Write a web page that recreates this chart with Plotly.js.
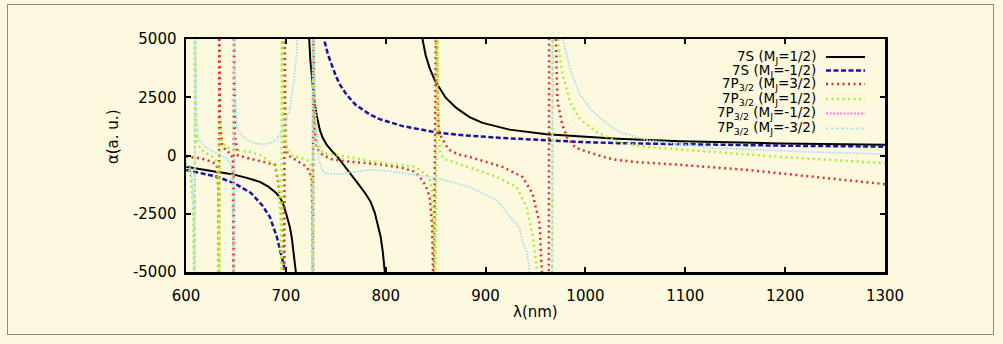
<!DOCTYPE html>
<html>
<head>
<meta charset="utf-8">
<script src="https://cdn.plot.ly/plotly-3.0.1.min.js"></script>
<style>
  html, body { margin: 0; padding: 0; background: #fdf9de; }
  #wrap { position: relative; width: 1003px; height: 344px; }
  #frame { position: absolute; left: 7px; top: 4px; width: 987px; height: 331px;
           border: 1.5px solid #8c8a7c; box-sizing: border-box; pointer-events: none; }
  #chart { position: absolute; left: 0; top: 0; width: 1003px; height: 344px; }
</style>
</head>
<body>
<div id="wrap"><div id="chart"></div><div id="frame"></div></div>
<script>
// ---- data (wavelength in nm, polarizability in a.u.) ----
var lam7S_p = [600,610,620,630,640,648,660,674,682,690,694,697,700,702,704,706,708,710,711.5,716,
  721.5,723,724.5,726,728,731,734,737,741,746,751,756,762,768,774,780,785,789,792,795,797,799,800.5,801.5,815,
  835.5,837,840,844,849,854,860,871,884,897,924,961,995,1032,1095,1195,1300];
var alpha7S_p = [-480,-560,-630,-700,-760,-820,-950,-1130,-1320,-1600,-1800,-2040,-2450,-2750,-3070,-3550,-4300,-5000,-6500,null,
  6500,4960,4100,3450,2500,1700,1100,750,450,200,-20,-300,-620,-950,-1300,-1650,-2000,-2450,-2950,-3500,-4100,-4800,-5600,-6500,null,
  6500,4960,4300,3750,3240,2900,2480,2030,1650,1400,1110,910,810,720,610,520,460];

var lam7S_m = [600,615,631,648,665,676,684,691,696,699,700.5,718,
  737.5,739,742,746,750,754,761,770,784,794,817,851,880,917,960,995,1032,1095,1200,1300];
var alpha7S_m = [-620,-760,-910,-1180,-1610,-2120,-2640,-3500,-4350,-4900,-6500,null,
  6500,4870,4350,3850,3420,3050,2600,2170,1760,1560,1260,990,860,750,650,580,530,480,420,380];

var lamP_32 = [600,611,620,627,631,632.5,633,633.3,634,636,640,645,647,647.7,648,649,652,660,670,680,689,692,695,697,698.5,698.8,699.5,702,707,714,721,724,726,726.8,727.2,727.4,728.5,731,736,745,760,784,800,817,828,834,840,844,846.5,848,850.5,852,853,856,860,864,872,884,900,917,937,947,954,957,958,963.3,963.7,969.5,970.5,972,977,982,990,1000,1010,1020,1030,1050,1095,1162,1228,1300];
var alphaP_32 = [-50,-100,-180,-300,-450,-1500,-6500,6500,1500,500,200,80,-200,-6500,6500,800,0,-100,-200,-300,-400,-1050,-2040,-3500,-6500,6500,500,20,-110,-280,-490,-750,-1050,-3000,-6500,6500,1200,300,50,-150,-250,-340,-420,-540,-680,-900,-1300,-1780,-3000,-6500,6500,2000,1100,750,450,240,50,-60,-260,-490,-920,-1630,-2900,-5000,-6500,-6500,6500,6500,4500,2300,1300,750,330,180,50,-80,-180,-280,-400,-620,-910,-1230];

var lamP_12 = [600,604,607,608.5,609,609.5,611,615,622,628,631,632.5,633.3,633.6,635,640,648,665,675,685,690,693,695,695.7,696,697,699,702,706,715,721,725,726.5,727,727.3,728.5,731,737,747,767,798,830,843,846,848,849.3,851.8,852.5,853.3,854.5,857,861,870,884,897,911,931,941,947,951.5,953,966.7,967.1,971.5,972.5,977,984.5,994.5,1011.5,1021.6,1031,1045,1061.6,1128,1195,1300];
var alphaP_12 = [-400,-700,-2000,-6500,6500,1500,600,250,50,-100,-300,-1500,-6500,1600,700,350,250,150,0,-300,-500,-1200,-3000,-6500,6500,2000,700,200,0,-100,-180,-400,-2000,-6500,6500,2000,600,100,50,-100,-330,-490,-900,-1400,-3000,-6500,6500,3000,800,150,-80,-190,-320,-490,-700,-920,-1350,-2200,-3400,-4900,-6500,-6500,6500,6500,4800,3500,2300,1560,1000,800,620,480,370,150,-60,-330];

var lamP_m12 = [600,605,607.5,608.8,609.2,610,612,620,628,634,640,645,647,647.8,648.2,649.5,651,656,661,670,678,685,691,697,704,708,711,712.5,726.7,727,727.4,729,731,733,736,740,754,770,784,800,817,851,884,911,927,934,937,941,944,945,966.8,967.2,976.5,977.5,984.5,994.5,1007.6,1025,1035,1061.6,1128,1228,1300];
var alphaP_m12 = [-300,-600,-2000,-6500,6500,2500,750,350,150,0,-100,-400,-1500,-6500,6500,2500,1220,850,660,520,480,550,700,1100,2000,3200,4500,6500,6500,-6500,6500,3000,600,-200,-600,-780,-800,-700,-620,-650,-750,-970,-1350,-1910,-2770,-3100,-3700,-4100,-4900,-6500,-6500,6500,6500,5000,3750,2600,1870,1250,1000,660,320,150,60];

var lamP_m32 = [600,605,607.5,608.8,609.2,610,612,620,628,634,640,645,647,647.8,648.2,649.5,651,656,661,670,678,685,691,697,704,708,711,712.5,726.7,727,727.4,729,731,733,736,740,754,770,784,800,817,851,884,911,927,934,937,941,944,945,966.8,967.2,976.5,977.5,984.5,994.5,1007.6,1025,1035,1061.6,1128,1228,1300];
var alphaP_m32 = [-300,-600,-2000,-6500,6500,2500,750,350,150,0,-100,-400,-1500,-6500,6500,2500,1220,850,660,520,480,550,700,1100,2000,3200,4500,6500,6500,-6500,6500,3000,600,-200,-600,-780,-800,-700,-620,-650,-750,-970,-1350,-1910,-2770,-3100,-3700,-4100,-4900,-6500,-6500,6500,6500,5000,3750,2600,1870,1250,1000,660,320,150,60];

var seriesNames = ['7S (M<sub>J</sub>=1/2)','7S (M<sub>J</sub>=-1/2)','7P<sub>3/2</sub> (M<sub>J</sub>=3/2)','7P<sub>3/2</sub> (M<sub>J</sub>=1/2)','7P<sub>3/2</sub> (M<sub>J</sub>=-1/2)','7P<sub>3/2</sub> (M<sub>J</sub>=-3/2)'];
var xTickVals = [600,700,800,900,1000,1100,1200,1300];
var xTickText = ['600','700','800','900','1000','1100','1200','1300'];
var yTickVals = [-5000,-2500,0,2500,5000];
var yTickText = ['-5000','-2500','0','2500','5000'];

// ---- styles: plot line style and legend sample style ----
var styles = [
  {color:'#000000', width:2,   dash:'solid'},
  {color:'#1414a8', width:2.5, dash:'5px,2.5px'},
  {color:'#e0302a', width:2.5, dash:'2px,3.5px'},
  {color:'#a8f030', width:2.5, dash:'2px,3.5px'},
  {color:'#e8a0e0', width:0.6, dash:'1.5px,1.5px'},
  {color:'#a2e4ee', width:1.8, dash:'1.5px,1.5px'}
];
var legendStyles = [
  styles[0], styles[1], styles[2], styles[3],
  {color:'#ff78f0', width:2, dash:'2px,1.5px'},
  {color:'#a6e8f0', width:2, dash:'2.5px,2.5px'}
];
var xs = [lam7S_p, lam7S_m, lamP_32, lamP_12, lamP_m12, lamP_m32];
var ys = [alpha7S_p, alpha7S_m, alphaP_32, alphaP_12, alphaP_m12, alphaP_m32];

var traces = xs.map(function(x, i){
  return {x:x, y:ys[i], type:'scatter', mode:'lines', name:seriesNames[i],
          connectgaps:false, showlegend:false, hoverinfo:'skip',
          line:{color:styles[i].color, width:styles[i].width, dash:styles[i].dash}};
});

// manual legend (text on the left, sample on the right)
var rowY = [0.9227, 0.8648, 0.8069, 0.7425, 0.6803, 0.6159];
var annotations = [];
var shapes = [];
seriesNames.forEach(function(n, i){
  annotations.push({xref:'paper', yref:'paper', x:0.904, y:rowY[i], xanchor:'right', yanchor:'middle',
    text:n, showarrow:false, font:{family:'DejaVu Sans', size:13.5, color:'#000'}});
  shapes.push({type:'line', xref:'paper', yref:'paper', x0:0.9156, x1:0.9714, y0:rowY[i], y1:rowY[i],
    line:{color:legendStyles[i].color, width:legendStyles[i].width, dash:legendStyles[i].dash}});
});
annotations.push({xref:'paper', yref:'paper', x:0.5, y:-0.172, xanchor:'center', yanchor:'middle',
  text:'λ(nm)', showarrow:false, font:{family:'DejaVu Sans', size:15, color:'#000'}});
annotations.push({xref:'paper', yref:'paper', x:-0.1044, y:0.579, xanchor:'center', yanchor:'middle',
  text:'α(a. u.)', textangle:-90, showarrow:false, font:{family:'DejaVu Sans', size:15, color:'#000'}});

var layout = {
  width:1003, height:344,
  margin:{l:186, r:118, t:39, b:72, pad:0},
  paper_bgcolor:'rgba(0,0,0,0)', plot_bgcolor:'#fdf9de',
  font:{family:'DejaVu Sans', size:15, color:'#000'},
  xaxis:{range:[600,1300], tickvals:xTickVals, ticktext:xTickText, ticks:'inside', ticklen:5, tickwidth:2,
         tickcolor:'#000', showline:true, linewidth:2.5, linecolor:'#000', mirror:'ticks',
         showgrid:false, zeroline:false, ticklabelstandoff:8, fixedrange:true},
  yaxis:{range:[-5000,5000], tickvals:yTickVals, ticktext:yTickText, ticks:'inside', ticklen:5, tickwidth:2,
         tickcolor:'#000', showline:true, linewidth:2.5, linecolor:'#000', mirror:'ticks',
         showgrid:false, zeroline:false, ticklabelstandoff:4, fixedrange:true},
  showlegend:false,
  annotations:annotations,
  shapes:shapes
};
Plotly.newPlot('chart', traces, layout, {displayModeBar:false, staticPlot:true});
</script>
</body>
</html>
